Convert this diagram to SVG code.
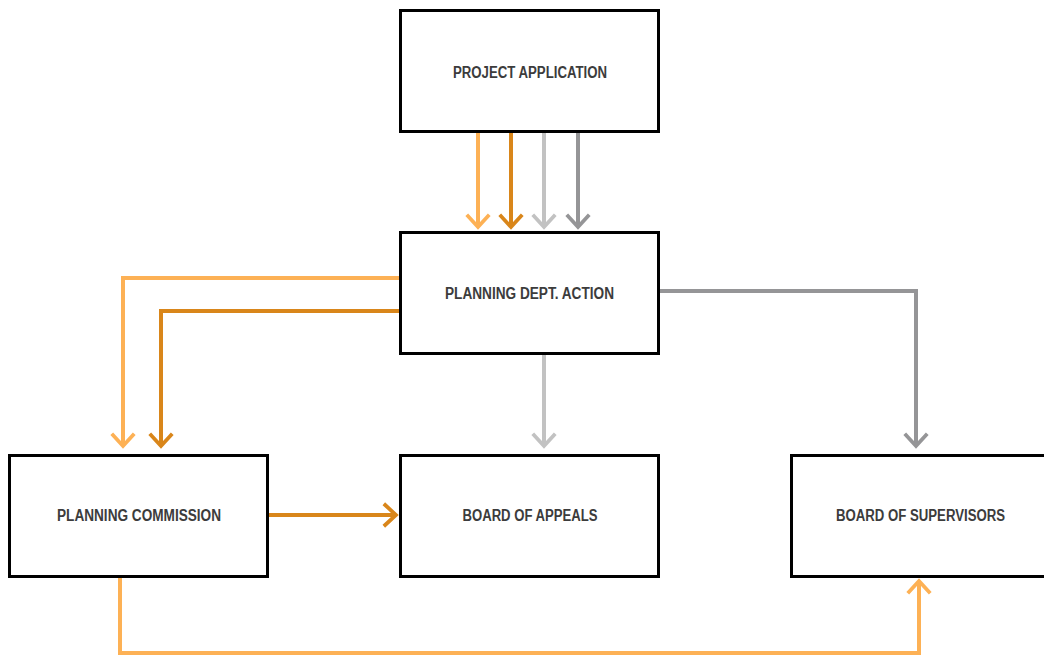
<svg xmlns="http://www.w3.org/2000/svg" width="1044" height="655" viewBox="0 0 1044 655">
<style>
.box{fill:#fff;stroke:#000;stroke-width:3}
.lbl{font-family:"Liberation Sans",Arial,sans-serif;font-weight:bold;font-size:16px;fill:#3c3c3c;text-anchor:middle}
.c{fill:none;stroke-width:4}
.lo{stroke:#FDB155}
.do{stroke:#D9861A}
.lg{stroke:#C2C2C2}
.dg{stroke:#959597}
</style>
<defs>
<marker id="m-lo" markerUnits="userSpaceOnUse" markerWidth="30" markerHeight="30" viewBox="-16 -16 32 32" refX="0" refY="0" orient="auto" overflow="visible"><path d="M-13,-12 L0,0 L-13,12" fill="none" stroke="#FDB155" stroke-width="4"/></marker>
<marker id="m-do" markerUnits="userSpaceOnUse" markerWidth="30" markerHeight="30" viewBox="-16 -16 32 32" refX="0" refY="0" orient="auto" overflow="visible"><path d="M-13,-12 L0,0 L-13,12" fill="none" stroke="#D9861A" stroke-width="4"/></marker>
<marker id="m-lg" markerUnits="userSpaceOnUse" markerWidth="30" markerHeight="30" viewBox="-16 -16 32 32" refX="0" refY="0" orient="auto" overflow="visible"><path d="M-13,-12 L0,0 L-13,12" fill="none" stroke="#C2C2C2" stroke-width="4"/></marker>
<marker id="m-dg" markerUnits="userSpaceOnUse" markerWidth="30" markerHeight="30" viewBox="-16 -16 32 32" refX="0" refY="0" orient="auto" overflow="visible"><path d="M-13,-12 L0,0 L-13,12" fill="none" stroke="#959597" stroke-width="4"/></marker>
</defs>
<rect width="1044" height="655" fill="#fff"/>
<g id="connectors">
<path class="c lo" d="M478,132 V227" marker-end="url(#m-lo)"/>
<path class="c do" d="M511,132 V227" marker-end="url(#m-do)"/>
<path class="c lg" d="M544,132 V227" marker-end="url(#m-lg)"/>
<path class="c dg" d="M578,132 V227" marker-end="url(#m-dg)"/>
<path class="c lo" d="M400,278 H123 V446" marker-end="url(#m-lo)"/>
<path class="c do" d="M400,311 H161 V446" marker-end="url(#m-do)"/>
<path class="c dg" d="M659,291 H916 V446" marker-end="url(#m-dg)"/>
<path class="c lg" d="M544,354 V446" marker-end="url(#m-lg)"/>
<path class="c do" d="M269,515 H396" marker-end="url(#m-do)"/>
<path class="c lo" d="M120,577 V653 H919 V581" marker-end="url(#m-lo)"/>
</g>
<g id="project-application">
<rect class="box" x="400.5" y="10.5" width="258" height="121"/>
<text class="lbl" x="530" y="77.5" textLength="154" lengthAdjust="spacingAndGlyphs">PROJECT APPLICATION</text>
</g>
<g id="planning-dept-action">
<rect class="box" x="400.5" y="232.5" width="258" height="121"/>
<text class="lbl" x="529.5" y="298.5" textLength="169" lengthAdjust="spacingAndGlyphs">PLANNING DEPT. ACTION</text>
</g>
<g id="planning-commission">
<rect class="box" x="9.5" y="455.5" width="258" height="121"/>
<text class="lbl" x="139" y="520.5" textLength="164" lengthAdjust="spacingAndGlyphs">PLANNING COMMISSION</text>
</g>
<g id="board-of-appeals">
<rect class="box" x="400.5" y="455.5" width="258" height="121"/>
<text class="lbl" x="530" y="520.5" textLength="135" lengthAdjust="spacingAndGlyphs">BOARD OF APPEALS</text>
</g>
<g id="board-of-supervisors">
<rect class="box" x="791.5" y="455.5" width="258" height="121"/>
<text class="lbl" x="920.5" y="520.5" textLength="169" lengthAdjust="spacingAndGlyphs">BOARD OF SUPERVISORS</text>
</g>
</svg>
